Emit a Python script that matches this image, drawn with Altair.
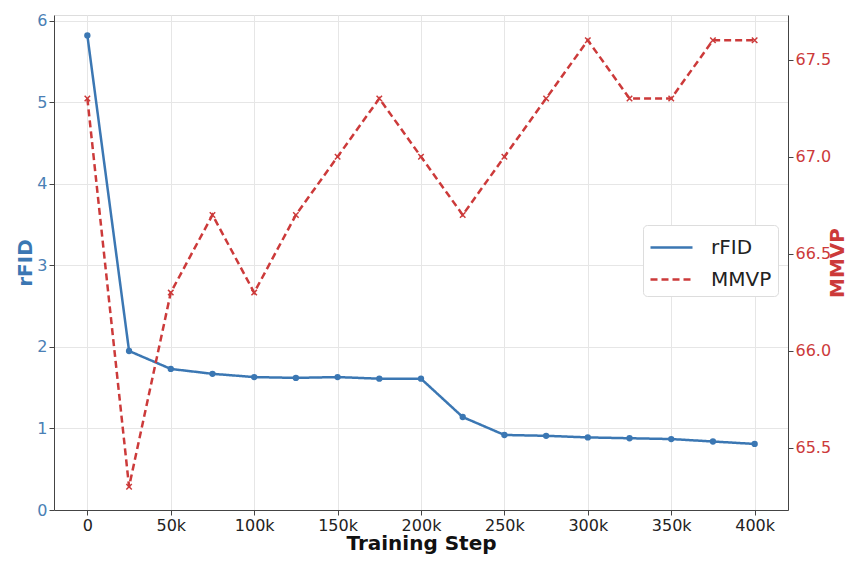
import altair as alt
import pandas as pd

steps = [0, 25000, 50000, 75000, 100000, 125000, 150000, 175000, 200000,
         225000, 250000, 275000, 300000, 325000, 350000, 375000, 400000]
rfid = [5.82, 1.95, 1.73, 1.67, 1.63, 1.62, 1.63, 1.61, 1.61,
        1.14, 0.92, 0.91, 0.89, 0.88, 0.87, 0.84, 0.81]
mmvp = [67.3, 65.3, 66.3, 66.7, 66.3, 66.7, 67.0, 67.3, 67.0,
        66.7, 67.0, 67.3, 67.6, 67.3, 67.3, 67.6, 67.6]
series_names = ["rFID", "MMVP"]
x_ticks = [0, 50000, 100000, 150000, 200000, 250000, 300000, 350000, 400000]
left_ticks = [0, 1, 2, 3, 4, 5, 6]
right_ticks = [65.5, 66.0, 66.5, 67.0, 67.5]

BLUE = "#3b77b3"
RED = "#cc3a3a"
FONT = "DejaVu Sans"

df = pd.DataFrame({"step": steps, "rfid": rfid, "mmvp": mmvp})
base = alt.Chart(df)

xenc = alt.X("step:Q", scale=alt.Scale(domain=[-20000, 420000], nice=False, zero=False),
             axis=alt.Axis(values=x_ticks, title="Training Step",
                           labelExpr="datum.value == 0 ? '0' : (datum.value / 1000) + 'k'",
                           labelFontSize=16, labelColor="#222222", titleFontSize=20,
                           titleFontWeight="bold", titleColor="#111111",
                           titleY=39, titleBaseline="alphabetic",
                           labelPadding=2, tickSize=5, tickColor="#444", domainColor="#444",
                           grid=True, gridColor="#e6e6e6", labelFont=FONT, titleFont=FONT,
                           labelFlush=False))

color_enc = alt.Color("series:N", scale=alt.Scale(domain=series_names, range=[BLUE, RED]),
                      legend=alt.Legend(title=None, orient="none", legendX=589, legendY=210,
                                        labelFontSize=20, labelFont=FONT, labelColor="#222",
                                        symbolType="M-1,0H1.8", symbolSize=900,
                                        symbolStrokeWidth=2.5,
                                        padding=6, rowPadding=5, labelOffset=29,
                                        strokeColor="#dddddd", fillColor="white",
                                        cornerRadius=4))
dash_enc = alt.StrokeDash("series:N", scale=alt.Scale(domain=series_names, range=[[1, 0], [7, 4]]),
                          legend=None)

yl = alt.Y("rfid:Q", scale=alt.Scale(domain=[0, 6.07], nice=False),
           axis=alt.Axis(values=left_ticks, format="d", title="rFID", labelFontSize=16,
                         labelColor="#4a7fb5", titleColor=BLUE, titleFontSize=20,
                         titleFontWeight="bold", titleX=-29, titleBaseline="middle",
                         tickSize=5, tickColor="#444", domainColor="#444",
                         grid=True, gridColor="#e6e6e6", labelFont=FONT, titleFont=FONT))

left_line = base.transform_calculate(series="'rFID'").mark_line(strokeWidth=2.5).encode(
    x=xenc, y=yl, color=color_enc, strokeDash=dash_enc)
left_pts = base.mark_point(filled=True, size=40, color=BLUE, opacity=1).encode(x="step:Q", y="rfid:Q")
left = alt.layer(left_line, left_pts)

yr = alt.Y("mmvp:Q", scale=alt.Scale(domain=[65.18, 67.73], nice=False, zero=False),
           axis=alt.Axis(values=right_ticks, format=".1f", orient="right", title="MMVP",
                         labelFontSize=16, labelColor=RED, titleColor=RED, titleFontSize=20,
                         titleFontWeight="bold", titleX=49, titleAngle=270,
                         titleBaseline="middle", tickSize=5, tickColor="#444",
                         domainColor="#444", grid=False, labelFont=FONT, titleFont=FONT))

right_line = base.transform_calculate(series="'MMVP'").mark_line(strokeWidth=2.5).encode(
    x="step:Q", y=yr, color=color_enc, strokeDash=dash_enc)
right_pts = base.mark_point(shape="M-1,-1L1,1M-1,1L1,-1", filled=False, size=30, color=RED,
                            strokeWidth=1.5, opacity=1).encode(x="step:Q", y="mmvp:Q")
right = alt.layer(right_line, right_pts)

chart = alt.layer(left, right).resolve_scale(y="independent").properties(
    width=734, height=495,
    autosize=alt.AutoSizeParams(type="none"),
    padding={"left": 46, "top": 7, "right": 60, "bottom": 45},
).configure_view(stroke="#444", strokeWidth=1.2).configure(background="white")

chart.save("out.html", embed_options={"renderer": "svg", "actions": False})
